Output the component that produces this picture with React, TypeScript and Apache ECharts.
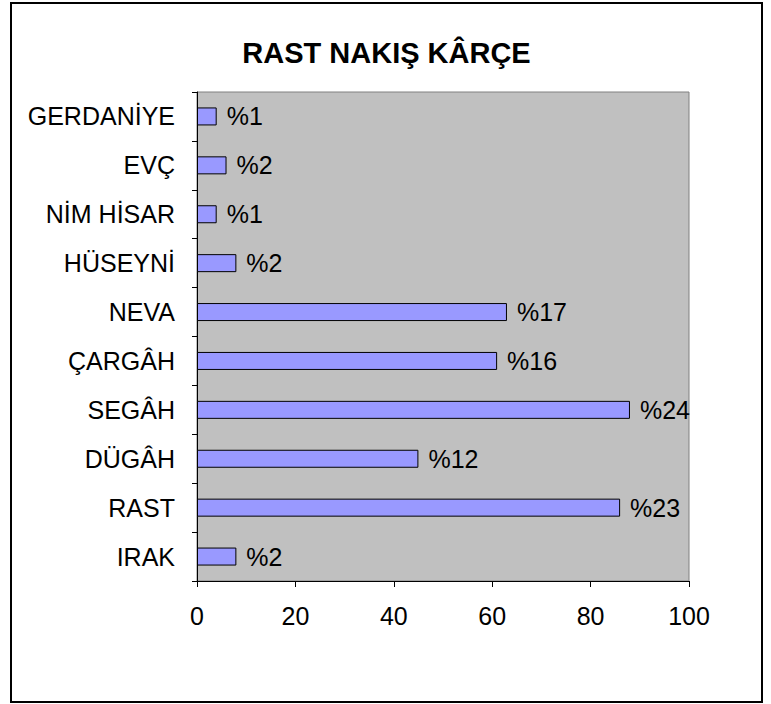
import React, { useEffect, useRef } from "react";
import * as echarts from "echarts";

const categories = ["GERDANİYE", "EVÇ", "NİM HİSAR", "HÜSEYNİ", "NEVA", "ÇARGÂH", "SEGÂH", "DÜGÂH", "RAST", "IRAK"];
const values = [4, 6, 4, 8, 63, 61, 88, 45, 86, 8];
const pctLabels = ["%1", "%2", "%1", "%2", "%17", "%16", "%24", "%12", "%23", "%2"];
const xTicks = { min: 0, max: 100, interval: 20 };
const titleText = "RAST NAKIŞ KÂRÇE";

const FONT = "'Liberation Sans', Arial, sans-serif";

export default function App() {
  const ref = useRef<HTMLDivElement>(null);
  useEffect(() => {
    if (!ref.current) return;
    const chart = echarts.init(ref.current, null, { renderer: "svg" });
    chart.setOption({
      animation: false,
      backgroundColor: "#ffffff",
      textStyle: { fontFamily: FONT },
      graphic: [
        {
          type: "rect",
          shape: { x: 11, y: 3, width: 751, height: 699 },
          style: { fill: "none", stroke: "#000000", lineWidth: 2 },
          silent: true,
        },
        {
          type: "text",
          x: 386.5,
          y: 53,
          style: {
            text: titleText,
            fontFamily: FONT,
            fontSize: 29,
            fontWeight: "bold",
            fill: "#000000",
            align: "center",
            verticalAlign: "middle",
          },
        },
      ],
      grid: {
        left: 197,
        top: 92,
        right: 82,
        bottom: 123,
        show: true,
        backgroundColor: "#c0c0c0",
        borderColor: "#808080",
        borderWidth: 1,
        containLabel: false,
      },
      xAxis: {
        type: "value",
        min: xTicks.min,
        max: xTicks.max,
        interval: xTicks.interval,
        axisLine: { show: true, lineStyle: { color: "#000000", width: 1 } },
        axisTick: { show: true, length: 6, lineStyle: { color: "#000000" } },
        axisLabel: { fontSize: 25, color: "#000000", margin: 22, fontFamily: FONT },
        splitLine: { show: false },
      },
      yAxis: {
        type: "category",
        data: categories,
        inverse: true,
        axisLine: { show: true, lineStyle: { color: "#000000", width: 1 } },
        axisTick: { show: true, length: 5, lineStyle: { color: "#000000" } },
        axisLabel: { fontSize: 25, color: "#000000", margin: 22, fontFamily: FONT },
        splitLine: { show: false },
      },
      series: [
        {
          type: "bar",
          data: values,
          barWidth: 18,
          itemStyle: { color: "#9999ff", borderColor: "#000000", borderWidth: 1 },
          label: {
            show: true,
            position: "right",
            distance: 10,
            fontSize: 25,
            color: "#000000",
            fontFamily: FONT,
            formatter: (p: any) => pctLabels[p.dataIndex],
          },
        },
      ],
    });
    return () => chart.dispose();
  }, []);
  return (
    <div
      ref={ref}
      style={{ position: "fixed", left: 0, top: 0, width: 771, height: 704 }}
    />
  );
}
